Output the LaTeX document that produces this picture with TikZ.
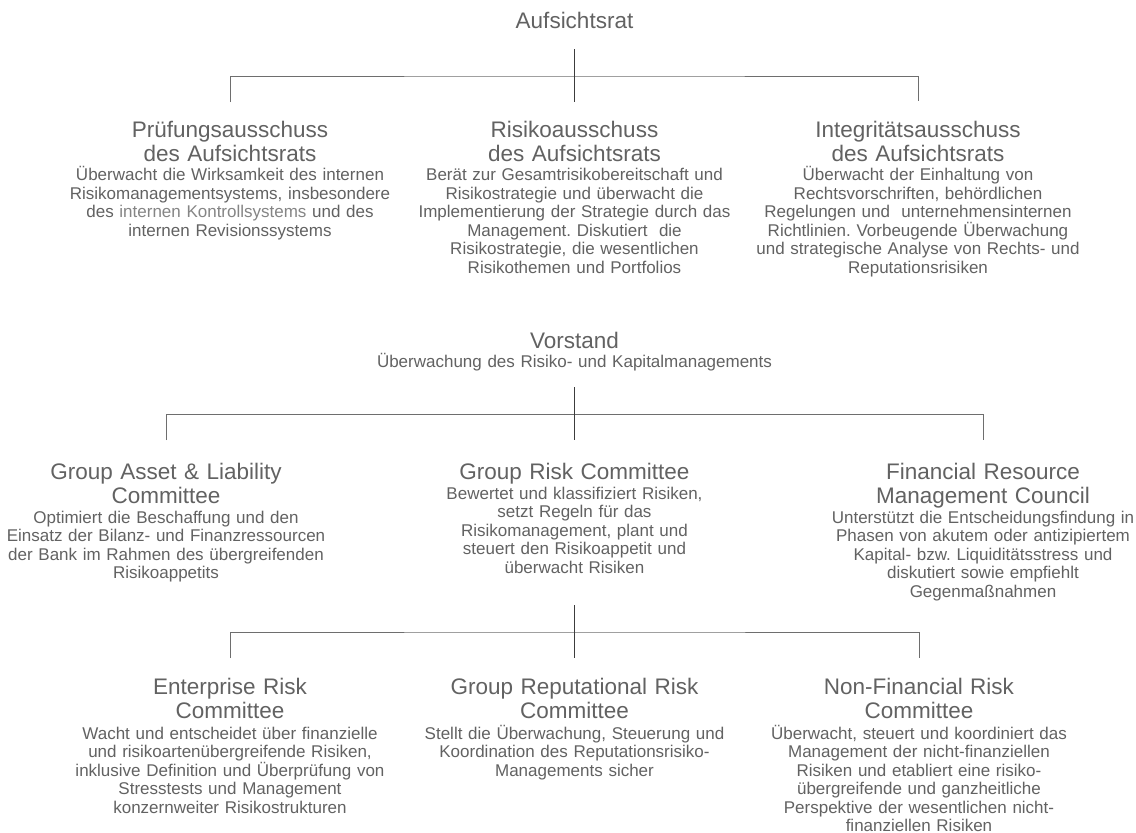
\documentclass[tikz,border=0pt]{standalone}
\usepackage{fontspec}
\setmainfont{Liberation Sans}
\definecolor{txt}{HTML}{626262}
\definecolor{txtl}{HTML}{858585}
\definecolor{bus}{HTML}{6E6E6E}
\definecolor{stem}{HTML}{3C3C3C}
\lineskiplimit=-16000pt
\frenchspacing
\tikzset{
  head/.style={anchor=base, inner sep=0pt, text=txt, align=center, text width=420pt,
    font=\fontsize{22.5}{24}\selectfont},
  desc/.style={anchor=base, inner sep=0pt, text=txt, align=center, text width=420pt,
    font=\fontsize{17}{18.5}\selectfont},
  busline/.style={draw=bus, line width=1pt},
  stemline/.style={draw=stem, line width=1pt},
}
\begin{document}
\frenchspacing
\begin{tikzpicture}[x=1pt,y=-1pt]
\fill[white] (0,0) rectangle (1136,833);
\useasboundingbox (0,0) rectangle (1136,833);

% ---- Level 0: Aufsichtsrat
\node[head] (ar) at (574.5,28) {Aufsichtsrat};

\node[head] (pa) at (230,137.5) {Prüfungsausschuss\\des Aufsichtsrats};
\node[desc] (pad) at (230,180.5) {Überwacht die Wirksamkeit des internen\\Risikomanagementsystems, insbesondere\\des {\color{txtl}internen Kontrollsystems} und des\\internen Revisionssystems};

\node[head] (ra) at (574.5,137.5) {Risikoausschuss\\des Aufsichtsrats};
\node[desc] (rad) at (574.5,180.5) {Berät zur Gesamtrisikobereitschaft und\\Risikostrategie und überwacht die\\Implementierung der Strategie durch das\\Management. Diskutiert~ die\\Risikostrategie, die wesentlichen\\Risikothemen und Portfolios};

\node[head] (ia) at (918,137.5) {Integritätsausschuss\\des Aufsichtsrats};
\node[desc] (iad) at (918,180.5) {Überwacht der Einhaltung von\\Rechtsvorschriften, behördlichen\\Regelungen und~ unternehmensinternen\\Richtlinien. Vorbeugende Überwachung\\und strategische Analyse von Rechts- und\\Reputationsrisiken};

\coordinate (s1a) at (574.5,49);
\coordinate (s1b) at (574.5,102);
\coordinate (b1l) at (230,102);
\coordinate (b1r) at (918,101);
\coordinate (b1y) at (574.5,76);
\draw[busline] (b1l) |- (b1y) -| (b1r);
\draw[stemline] (s1a) -- (s1b);

% ---- Level 1: Vorstand
\node[head] (vs) at (574.5,348) {Vorstand};
\node[desc] (vsd) at (574.5,367.5) {Überwachung des Risiko- und Kapitalmanagements};

\node[head] (ga) at (166,479.5) {Group Asset \& Liability\\Committee};
\node[desc] (gad) at (166,523) {Optimiert die Beschaffung und den\\Einsatz der Bilanz- und Finanzressourcen\\der Bank im Rahmen des übergreifenden\\Risikoappetits};

\node[head] (gr) at (574.5,479.5) {Group Risk Committee};
\node[desc] (grd) at (574.5,499) {Bewertet und klassifiziert Risiken,\\setzt Regeln für das\\Risikomanagement, plant und\\steuert den Risikoappetit und\\überwacht Risiken};

\node[head] (fr) at (983,479.5) {Financial Resource\\Management Council};
\node[desc] (frd) at (983,523) {Unterstützt die Entscheidungsfindung in\\Phasen von akutem oder antizipiertem\\Kapital- bzw. Liquiditätsstress und\\diskutiert sowie empfiehlt\\Gegenmaßnahmen};

\coordinate (s2a) at (574.5,387);
\coordinate (s2b) at (574.5,440);
\coordinate (b2l) at (166,440);
\coordinate (b2r) at (983,440);
\coordinate (b2y) at (574.5,414.5);
\draw[busline] (b2l) |- (b2y) -| (b2r);
\draw[stemline] (s2a) -- (s2b);

% ---- Level 2: Group Risk Committee
\node[head] (er) at (230,694.5) {Enterprise Risk\\Committee};
\node[desc] (erd) at (230,739) {Wacht und entscheidet über finanzielle\\und risikoartenübergreifende Risiken,\\inklusive Definition und Überprüfung von\\Stresstests und Management\\konzernweiter Risikostrukturen};

\node[head] (rr) at (574.5,694.5) {Group Reputational Risk\\Committee};
\node[desc] (rrd) at (574.5,739) {Stellt die Überwachung, Steuerung und\\Koordination des Reputationsrisiko-\\Managements sicher};

\node[head] (nf) at (919,694.5) {Non-Financial Risk\\Committee};
\node[desc] (nfd) at (919,739) {Überwacht, steuert und koordiniert das\\Management der nicht-finanziellen\\Risiken und etabliert eine risiko-\\übergreifende und ganzheitliche\\Perspektive der wesentlichen nicht-\\finanziellen Risiken};

\coordinate (s3a) at (574.5,605);
\coordinate (s3b) at (574.5,658);
\coordinate (b3l) at (230,658);
\coordinate (b3r) at (919,658);
\coordinate (b3y) at (574.5,632);
\draw[busline] (b3l) |- (b3y) -| (b3r);
\draw[stemline] (s3a) -- (s3b);
\end{tikzpicture}
\end{document}
